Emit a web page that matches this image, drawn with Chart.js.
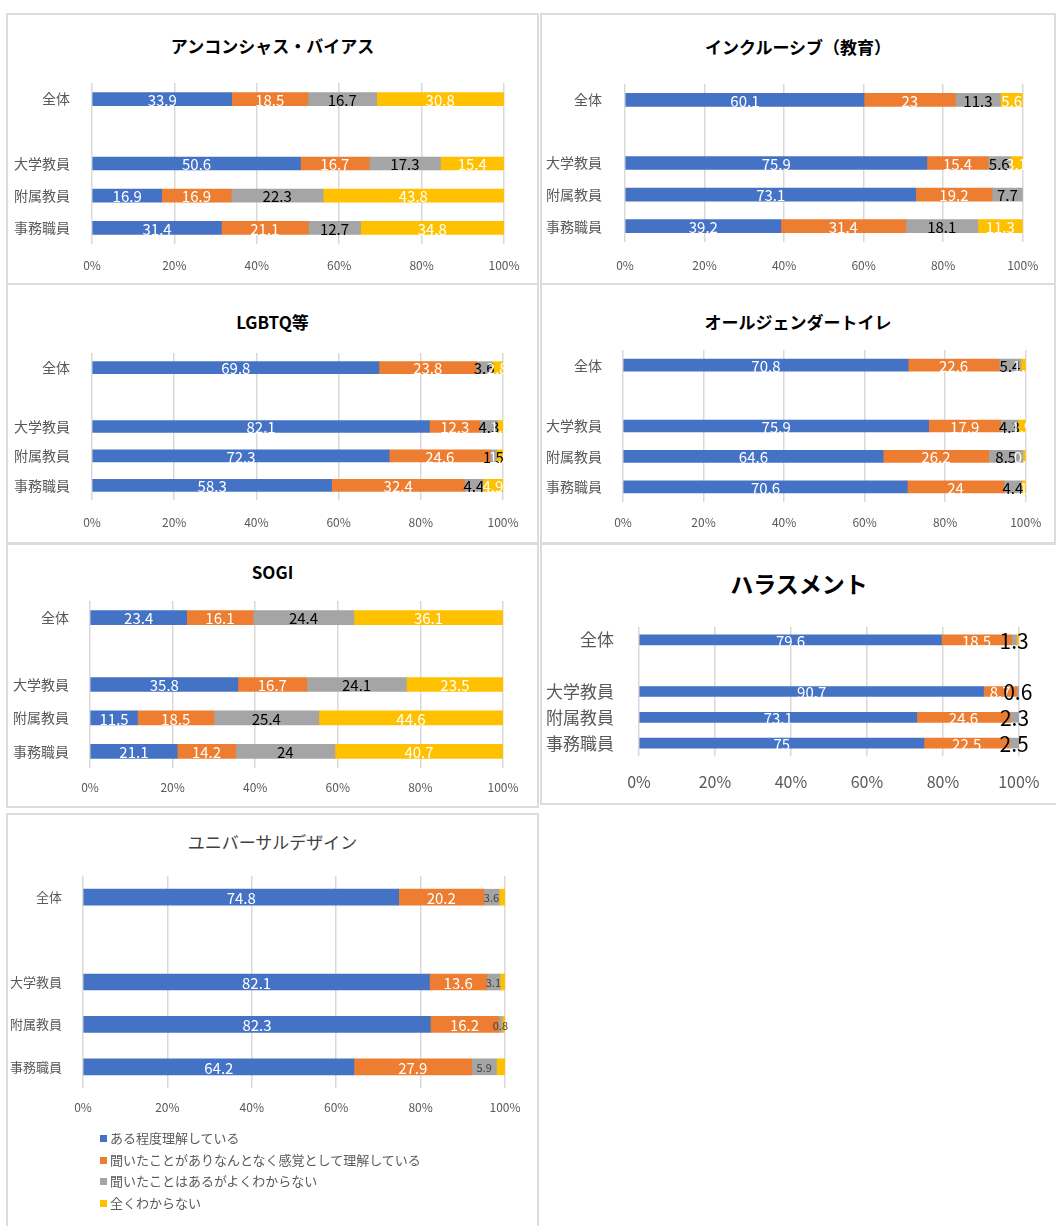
<!DOCTYPE html>
<html lang="ja">
<head>
<meta charset="utf-8">
<title>認知度</title>
<script src="https://cdn.jsdelivr.net/npm/chart.js@4/dist/chart.umd.min.js"></script>
<style>
  body { margin: 0; background: #fff; width: 1056px; height: 1226px; overflow: hidden; position: relative;
         font-family: 'Noto Sans CJK JP', 'Noto Sans', sans-serif; }
  .panel { position: absolute; outline: 2px solid #dcdcdc; background: #fff; }
  .panel .ttl { position: absolute; left: 0; width: 100%; text-align: center; color: #000; white-space: nowrap; }
  .panel .cv { position: absolute; left: 0; top: 0; width: 100%; height: 100%; }
  .legend { position: absolute; left: 100px; top: 1127px; font-size: 13px; color: #595959; }
  .legend div { height: 21.7px; line-height: 21.7px; white-space: nowrap; }
  .legend span { display: inline-block; width: 7px; height: 7px; margin-right: 3px; vertical-align: 1px; }
</style>
</head>
<body>
<div id="legend" class="legend"></div>
<script>
// カテゴリと系列
const categories = ['全体', '', '大学教員', '附属教員', '事務職員'];
const seriesNames = [
    'ある程度理解している',
    '聞いたことがありなんとなく感覚として理解している',
    '聞いたことはあるがよくわからない',
    '全くわからない'
];
const xTickValues = [0, 20, 40, 60, 80, 100];

// 各テーマの値（系列ごと、カテゴリ順）
const unconsciousBias = [
    [33.9, null, 50.6, 16.9, 31.4],
    [18.5, null, 16.7, 16.9, 21.1],
    [16.7, null, 17.3, 22.3, 12.7],
    [30.8, null, 15.4, 43.8, 34.8]
];
const inclusive = [
    [60.1, null, 75.9, 73.1, 39.2],
    [23, null, 15.4, 19.2, 31.4],
    [11.3, null, 5.6, 7.7, 18.1],
    [5.6, null, 3.1, 0, 11.3]
];
const lgbtq = [
    [69.8, null, 82.1, 72.3, 58.3],
    [23.8, null, 12.3, 24.6, 32.4],
    [3.6, null, 4.3, 1.5, 4.4],
    [2.8, null, 1.3, 1.5, 4.9]
];
const allGenderToilet = [
    [70.8, null, 75.9, 64.6, 70.6],
    [22.6, null, 17.9, 26.2, 24],
    [5.4, null, 4.3, 8.5, 4.4],
    [1.2, null, 1.9, 0.7, 1.0]
];
const sogi = [
    [23.4, null, 35.8, 11.5, 21.1],
    [16.1, null, 16.7, 18.5, 14.2],
    [24.4, null, 24.1, 25.4, 24],
    [36.1, null, 23.5, 44.6, 40.7]
];
const harassment = [
    [79.6, null, 90.7, 73.1, 75],
    [18.5, null, 8.7, 24.6, 22.5],
    [1.3, null, 0.6, 2.3, 2.5],
    [0.6, null, 0, 0, 0]
];
const universalDesign = [
    [74.8, null, 82.1, 82.3, 64.2],
    [20.2, null, 13.6, 16.2, 27.9],
    [3.6, null, 3.1, 0.8, 5.9],
    [1.4, null, 1.2, 0.7, 2.0]
];

const colors = ['#4472C4', '#ED7D31', '#A5A5A5', '#FFC000'];
const FONT = "'Noto Sans CJK JP', 'Noto Sans', sans-serif";
Chart.defaults.font.family = FONT;

// パネルの配置（ページ座標）
const panels = [
    { title: 'アンコンシャス・バイアス', values: unconsciousBias, rect: [8, 15, 529, 268], titleY: 46,
      x0: 92, x1: 504, band: [83, 244], tickY: 265, labelRight: 78, bar: 13 },
    { title: 'インクルーシブ（教育）', values: inclusive, rect: [542, 15, 512, 268], titleY: 47,
      x0: 625, x1: 1039, band: [84, 242], tickY: 265, labelRight: 610, bar: 13 },
    { title: 'LGBTQ等', values: lgbtq, rect: [8, 285, 529, 257], titleY: 322,
      x0: 92, x1: 503, band: [353, 500], tickY: 522, labelRight: 78, bar: 12 },
    { title: 'オールジェンダートイレ', values: allGenderToilet, rect: [542, 285, 512, 257], titleY: 322,
      x0: 623, x1: 1038, band: [350, 502], tickY: 522, labelRight: 610, bar: 12 },
    { title: 'SOGI', values: sogi, rect: [8, 545, 529, 261], titleY: 572,
      x0: 90, x1: 503, band: [601, 768], tickY: 787, labelRight: 77, bar: 14 },
    { title: 'ハラスメント', values: harassment, rect: [542, 545, 514, 258], titleY: 583, titleSize: 23,
      x0: 639, x1: 1023, band: [627, 756], tickY: 782, labelRight: 622, bar: 10,
      tickSize: 16, catSize: 17, valueSize: 15, grayValueSize: 21, labelSeries: [0, 1, 2] },
    { title: 'ユニバーサルデザイン', values: universalDesign, rect: [8, 815, 529, 420], titleY: 842, titleBold: false,
      titleColor: '#404040', x0: 83, x1: 505, band: [876, 1088], tickY: 1107, labelRight: 70, bar: 16,
      catSize: 13, valueSize: 15, grayValueSize: 11, grayValueColor: '#404040', labelSeries: [0, 1, 2] }
];

function makePanel(p) {
    const [L, T, W, H] = p.rect;
    const div = document.createElement('div');
    div.className = 'panel';
    div.style.cssText = `left:${L}px;top:${T}px;width:${W}px;height:${H}px;`;

    const tSize = p.titleSize || 17;
    const ttl = document.createElement('div');
    ttl.className = 'ttl';
    ttl.textContent = p.title;
    ttl.style.cssText = `top:${p.titleY - T - tSize * 0.7}px;height:${tSize * 1.4}px;line-height:${tSize * 1.4}px;` +
        `font-size:${tSize}px;font-weight:${p.titleBold === false ? 400 : 700};color:${p.titleColor || '#000'};`;
    div.appendChild(ttl);

    const wrap = document.createElement('div');
    wrap.className = 'cv';
    const canvas = document.createElement('canvas');
    wrap.appendChild(canvas);
    div.appendChild(wrap);
    document.body.appendChild(div);

    const tickSize = p.tickSize || 12;
    const catSize = p.catSize || 14;
    const valueSize = p.valueSize || 15;
    const graySize = p.grayValueSize || valueSize;
    const showSeries = p.labelSeries || [0, 1, 2, 3];

    // 値ラベルを各区間の中央に描く
    const valueLabels = {
        id: 'valueLabels',
        afterDatasetsDraw(chart) {
            const ctx = chart.ctx;
            ctx.save();
            ctx.textAlign = 'center';
            ctx.textBaseline = 'middle';
            chart.data.datasets.forEach((ds, i) => {
                if (!showSeries.includes(i)) return;
                const meta = chart.getDatasetMeta(i);
                meta.data.forEach((el, j) => {
                    const v = ds.data[j];
                    if (v === null || v <= 0) return;
                    const isGray = i === 2;
                    ctx.font = `${isGray ? graySize : valueSize}px ${FONT}`;
                    ctx.fillStyle = isGray ? (p.grayValueColor || '#000') : '#fff';
                    ctx.fillText(String(v), (el.x + el.base) / 2, el.y + 1);
                });
            });
            ctx.restore();
        }
    };

    new Chart(canvas, {
        type: 'bar',
        data: {
            labels: categories,
            datasets: seriesNames.map((name, i) => ({
                label: name,
                data: p.values[i],
                backgroundColor: colors[i],
                barThickness: p.bar
            }))
        },
        options: {
            indexAxis: 'y',
            responsive: true,
            maintainAspectRatio: false,
            animation: false,
            layout: { padding: { top: p.band[0] - T, right: W - (p.x1 - L), left: 0, bottom: 0 } },
            plugins: { legend: { display: false }, tooltip: { enabled: false } },
            scales: {
                x: {
                    stacked: true, min: 0, max: 100,
                    afterBuildTicks: (scale) => { scale.ticks = xTickValues.map(v => ({ value: v })); },
                    afterFit: (scale) => { scale.height = H - (p.band[1] - T); },
                    ticks: {
                        callback: v => v + '%',
                        color: '#595959',
                        font: { size: tickSize },
                        padding: p.tickY - p.band[1] - tickSize * 0.6
                    },
                    grid: { color: '#d9d9d9', lineWidth: 1.5, drawTicks: false },
                    border: { display: false }
                },
                y: {
                    stacked: true,
                    afterFit: (scale) => { scale.width = p.x0 - L; },
                    ticks: {
                        color: '#595959',
                        font: { size: catSize },
                        padding: p.x0 - p.labelRight
                    },
                    grid: { display: false },
                    border: { display: false }
                }
            }
        },
        plugins: [valueLabels]
    });
}

panels.forEach(makePanel);

// 凡例（最後のグラフの下）
const legendEl = document.getElementById('legend');
seriesNames.forEach((name, i) => {
    const row = document.createElement('div');
    row.innerHTML = `<span style="background:${colors[i]}"></span>`;
    row.appendChild(document.createTextNode(name));
    legendEl.appendChild(row);
});
legendEl.parentNode.appendChild(legendEl);
</script>
</body>
</html>
